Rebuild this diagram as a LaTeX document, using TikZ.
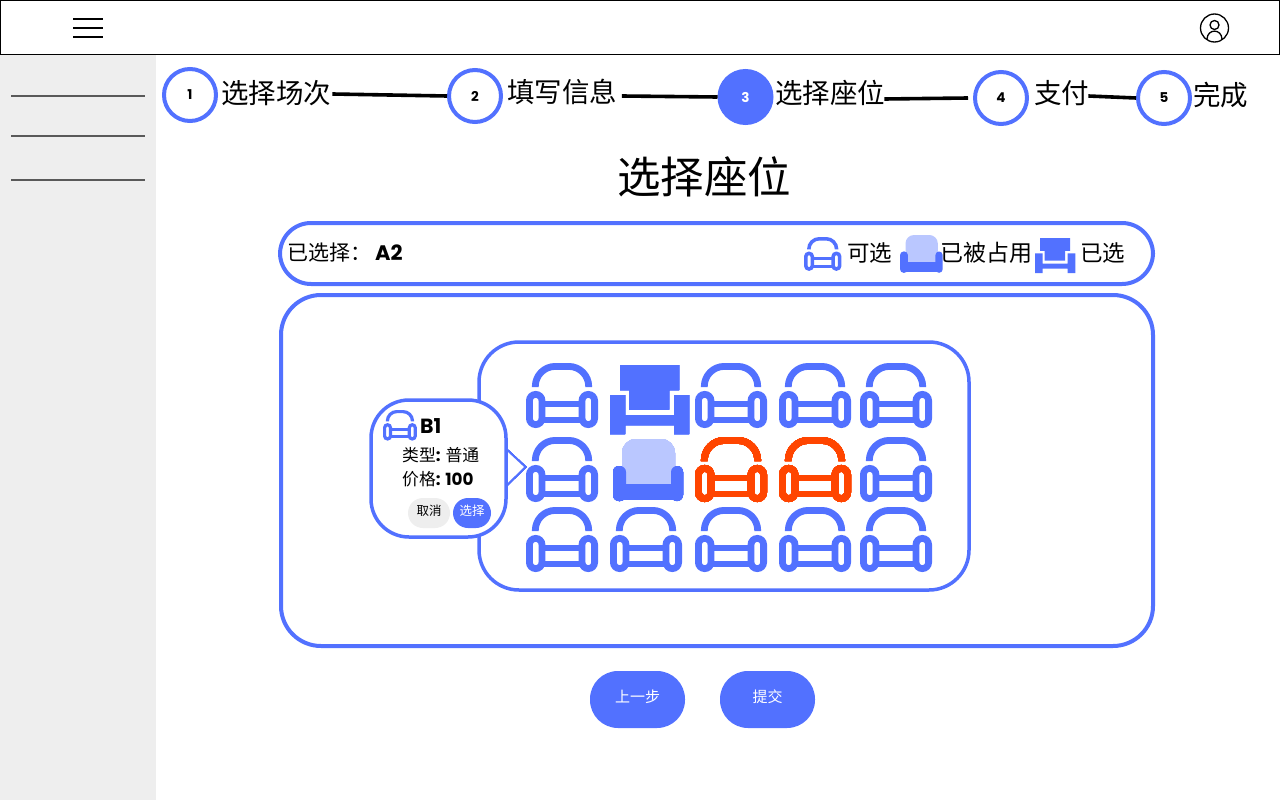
\documentclass[tikz,border=0pt]{standalone}
\usepackage{fontspec}
\setmainfont{Noto Sans CJK SC}
\newfontfamily\pop{Poppins}
\newcommand{\fs}[1]{\fontsize{#1}{#1}\selectfont}
\definecolor{bl}{HTML}{5271FF}
\definecolor{lb}{HTML}{BAC7FF}
\definecolor{rd}{HTML}{FF4500}
\definecolor{gy}{HTML}{EEEEEE}
\newcommand{\seatO}[4]{%
\pgfmathsetlengthmacro{\lw}{6.8pt*#3}%
\pgfmathsetlengthmacro{\ra}{20pt*#3}%
\pgfmathsetlengthmacro{\rb}{6.3pt*#3}%
\begin{scope}[shift={(#1,#2)},scale=#3]
\draw[#4,line width=\lw,rounded corners=\ra] (9.3,24) -- (9.3,3.4) -- (62.7,3.4) -- (62.7,24);
\draw[#4,line width=\lw,rounded corners=\rb] (3.4,31.4) rectangle (16,61.6);
\draw[#4,line width=\lw,rounded corners=\rb] (56,31.4) rectangle (68.6,61.6);
\draw[#4,line width=\lw] (16,41) -- (56,41) (16,57) -- (56,57);
\end{scope}}
\newcommand{\seatS}[3]{%
\begin{scope}[shift={(#1,#2)},scale=#3]
\fill[bl] (10,0) -- (69,0) -- (69,25) -- (59,25) -- (59,44.5) -- (19,44.5) -- (19,25) -- (10,25) -- cycle;
\fill[bl] (0,30) -- (15,30) -- (15,50) -- (64,50) -- (64,30) -- (79,30) -- (79,69) -- (64,69) -- (64,60) -- (15,60) -- (15,69) -- (0,69) -- cycle;
\end{scope}}
\newcommand{\seatT}[3]{%
\pgfmathsetlengthmacro{\ra}{14pt*#3}%
\pgfmathsetlengthmacro{\rb}{6pt*#3}%
\begin{scope}[shift={(#1,#2)},scale=#3]
\fill[lb,rounded corners=\ra] (9,50) -- (9,0) -- (62,0) -- (62,50) -- cycle;
\fill[bl] (10,45) rectangle (60,61);
\fill[bl,rounded corners=\rb] (0,27) rectangle (13,62);
\fill[bl,rounded corners=\rb] (58,27) rectangle (70,62);
\end{scope}}
\tikzset{
 x=1pt,y=-1pt,
 frame/.style={draw=bl,line width=4pt,fill=white},
 stepc/.style={circle,draw=bl,line width=4pt,fill=white,minimum size=52pt,inner sep=0pt,font=\pop\bfseries\fs{13.5}},
 stepl/.style={inner sep=0pt,font=\fs{27.5}},
 stepline/.style={line width=3.6pt,black},
 txt/.style={inner sep=0pt,font=\fs{21}},
 btn/.style={fill=bl,rounded corners=28pt},
}
\begin{document}
\begin{tikzpicture}
\useasboundingbox (0,0) rectangle (1280,800);
\fill[white] (0,0) rectangle (1280,800);
% sidebar and header
\fill[gy] (0,55) rectangle (156,800);
\foreach \y in {96,136,180} \draw[black!65,line width=1.2pt] (11,\y) -- (145,\y);
\draw[black,line width=1.4pt,fill=white] (0.7,0.7) rectangle (1279.3,54.3);
\foreach \y in {19,28,37} \draw[black,line width=1.2pt] (73,\y) -- (103,\y);
\draw[black,line width=1.3pt] (1214.5,28) circle[radius=14];
\draw[black,line width=1.3pt] (1214.5,25) circle[radius=4.5];
\draw[black,line width=1.3pt] (1207,39) .. controls (1207.5,28.5) and (1221.5,28.5) .. (1222,39);
% stepper
\node[stepc] (c1) at (190,95) {1};
\node[stepc] (c2) at (475,96) {2};
\node[stepc,fill=bl,text=white] (c3) at (745.5,97) {3};
\node[stepc] (c4) at (1001,98) {4};
\node[stepc] (c5) at (1164,98) {5};
\node[stepl,anchor=west] (l1) at (221,93) {选择场次};
\node[stepl,anchor=west] (l2) at (507,92) {填写信息};
\node[stepl,anchor=west] (l3) at (775,93) {选择座位};
\node[stepl,anchor=west] (l4) at (1034,93) {支付};
\node[stepl,anchor=west] (l5) at (1193,95) {完成};
\coordinate (e4) at ([xshift=-5pt]c4.west);
\draw[stepline] ([xshift=1pt,yshift=-1pt]l1.east) -- (c2.west);
\draw[stepline] ([xshift=4.5pt,yshift=-4pt]l2.east) -- (c3.west);
\draw[stepline] ([xshift=-1pt,yshift=-6pt]l3.east) -- (e4);
\draw[stepline] ([xshift=-1pt,yshift=-3pt]l4.east) -- (c5.west);
\node[inner sep=0pt,font=\fs{43.5}] (title) at (704,177) {选择座位};
% legend panel
\draw[frame,rounded corners=31pt] (280,223) rectangle (1153,284);
\node[txt,anchor=west] (sel) at (287,253) {已选择：};
\node[inner sep=0pt,anchor=west,font=\pop\bfseries\fs{21}] (sela) at (375,253) {A2};
\seatO{804}{237}{0.52}{bl}
\node[inner sep=0pt,anchor=west,font=\fs{22.5}] (leg1) at (847,253) {可选};
\seatT{900}{235}{0.61}
\node[inner sep=0pt,anchor=west,font=\fs{23}] (leg2) at (940,253) {已被占用};
\seatS{1035}{238}{0.51}
\node[inner sep=0pt,anchor=west,font=\fs{22.5}] (leg3) at (1080,253) {已选};
% main panel
\draw[frame,rounded corners=40pt] (281,295) rectangle (1153,646);
\draw[draw=bl,line width=3.5pt,rounded corners=40pt] (479,342) rectangle (969,590);
% seats
\foreach \x/\y in {526/363,695/363,779/363,860/363,526/437,860/437,526/507,610/507,695/507,779/507,860/507}
  \seatO{\x}{\y}{1}{bl}
\seatO{695}{437}{1}{rd}
\seatO{779}{437}{1}{rd}
\seatS{610}{365}{1}
\seatT{613}{439}{1}
% popup
\draw[bl,line width=1.8pt,fill=white] (505,448) -- (525.5,467) -- (505,487);
\draw[draw=bl,line width=3.5pt,fill=white,rounded corners=38pt] (371,400) rectangle (506,537);
\seatO{383}{410}{0.47}{bl}
\node[inner sep=0pt,anchor=west,font=\pop\bfseries\fs{20.5}] (b1) at (420,426) {B1};
\node[inner sep=0pt,anchor=west,font=\fs{16.8}] (ptype) at (402,455) {类型{\pop\bfseries:} 普通};
\node[inner sep=0pt,anchor=west,font=\fs{16.8}] (pprice) at (402,479) {价格{\pop\bfseries: 100}};
\fill[gy,rounded corners=15pt] (408,498) rectangle (450,528);
\node[inner sep=0pt,font=\fs{12.5}] (cancel) at (429,511) {取消};
\fill[bl,rounded corners=15pt] (453,498) rectangle (491,528);
\node[inner sep=0pt,text=white,font=\fs{12.5}] (choose) at (472,511) {选择};
% buttons
\fill[btn] (590,671) rectangle (685,728);
\node[inner sep=0pt,text=white,font=\fs{15}] (prev) at (637.5,697) {上一步};
\fill[btn] (720,671) rectangle (815,728);
\node[inner sep=0pt,text=white,font=\fs{15}] (next) at (767.5,697) {提交};
\end{tikzpicture}
\end{document}
